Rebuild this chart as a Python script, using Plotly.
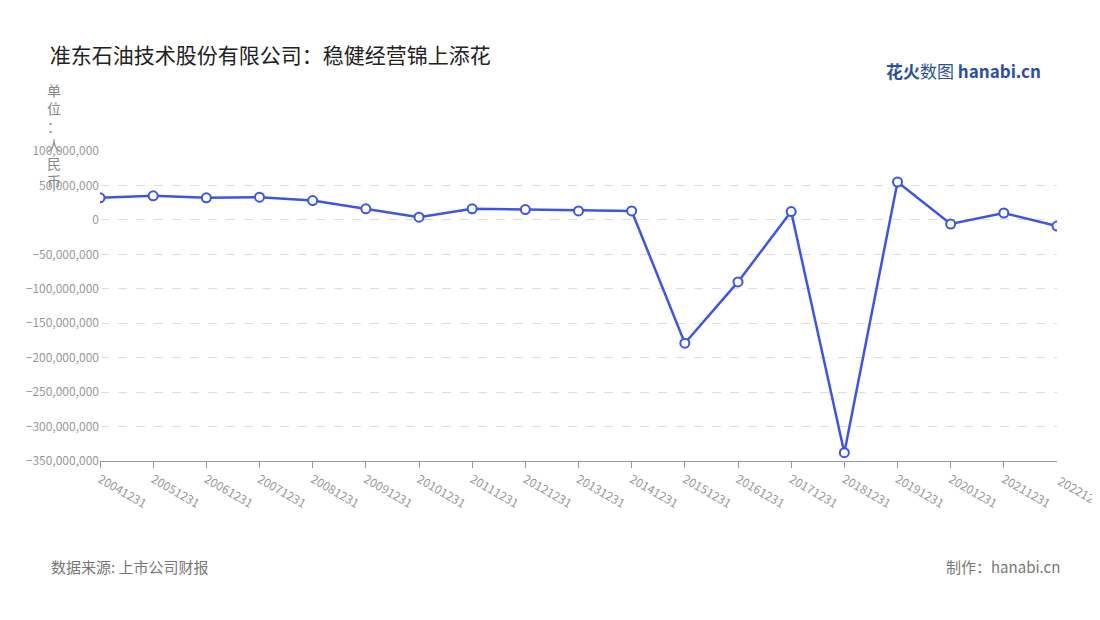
import plotly.graph_objects as go

years = ['20041231', '20051231', '20061231', '20071231', '20081231', '20091231', '20101231',
         '20111231', '20121231', '20131231', '20141231', '20151231', '20161231', '20171231',
         '20181231', '20191231', '20201231', '20211231', '20221231']
profit = [32e6, 35e6, 32e6, 33e6, 28e6, 16e6, 4e6, 16e6, 15e6, 13e6, 13e6, -179e6, -90e6,
          12e6, -338e6, 55e6, -6e6, 10e6, -9e6]
tick_vals = [100e6, 50e6, 0, -50e6, -100e6, -150e6, -200e6, -250e6, -300e6, -350e6]

font = 'Noto Sans CJK SC'
fig = go.Figure()
fig.add_trace(go.Scatter(
    x=list(range(len(years))), y=profit, mode='lines+markers',
    line=dict(color='#3d55e6', width=2.5),
    marker=dict(size=9, color='white', line=dict(color='#3d55e6', width=2)),
    hoverinfo='y'))

fig.update_layout(
    width=1100, height=620, paper_bgcolor='white', plot_bgcolor='white',
    margin=dict(l=92, r=51, t=143, b=167), showlegend=False,
    font=dict(family=font, color='#888'),
    title=dict(text='准东石油技术股份有限公司：稳健经营锦上添花', x=0.038, y=0.935,
               font=dict(size=21, color='#222', family=font)),
    xaxis=dict(range=[0, len(years) - 1], tickmode='array', tickvals=list(range(len(years) - 1)),
               ticktext=years[:-1], tickangle=30, showgrid=False, showline=True,
               linecolor='#999', ticks='outside', ticklen=6, tickcolor='#999',
               tickfont=dict(size=12, color='#999')),
    yaxis=dict(range=[-350e6, 100e6], tickmode='array', tickvals=tick_vals,
               tickformat=',.0f', showgrid=True, gridcolor='#ddd', griddash='dash',
               zeroline=False, showline=False, tickfont=dict(size=12, color='#999')),
)
# last category label sits at the paper edge, place it explicitly so it is not dropped
fig.add_annotation(text=years[-1], x=len(years) - 1, y=0, xref='x', yref='paper',
                   xanchor='left', yanchor='top', yshift=-8, xshift=-4, textangle=30,
                   showarrow=False, font=dict(size=12, color='#999'))
fig.add_annotation(text='单<br>位<br>：<br>人<br>民<br>币', xref='paper', yref='paper',
                   x=-0.048, y=1.235, xanchor='center', yanchor='top', showarrow=False,
                   font=dict(size=14, color='#888'), align='center')
fig.add_annotation(text='<b><span style="color:#2a4ea0">花火</span></b><span style="color:#2a4ea0">数图</span> '
                        '<b><span style="color:#2a4ea0">hanabi.cn</span></b>',
                   xref='paper', yref='paper', x=0.985, y=1.26, xanchor='right', yanchor='middle',
                   showarrow=False, font=dict(size=17))
fig.add_annotation(text='数据来源: 上市公司财报', xref='paper', yref='paper', x=-0.053, y=-0.34,
                   xanchor='left', yanchor='middle', showarrow=False, font=dict(size=15, color='#777'))
fig.add_annotation(text='制作：hanabi.cn', xref='paper', yref='paper', x=1.005, y=-0.34,
                   xanchor='right', yanchor='middle', showarrow=False, font=dict(size=15, color='#777'))

fig.write_html('out.html')
